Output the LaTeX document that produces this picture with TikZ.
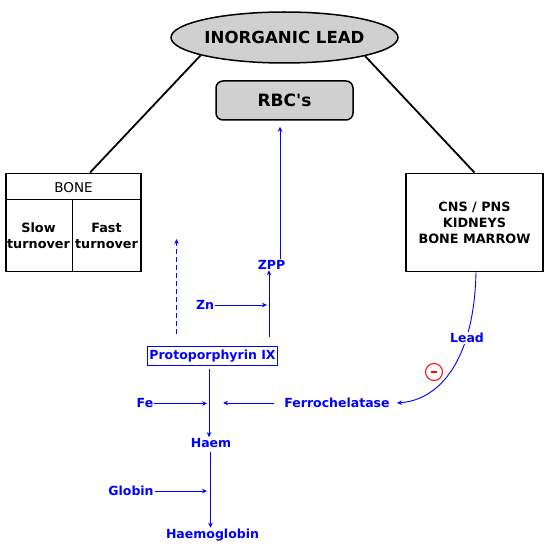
\documentclass[tikz,border=0pt]{standalone}
\usepackage{fontspec}
\setmainfont{DejaVu Sans}
\usetikzlibrary{arrows.meta,shapes.geometric,calc}
\definecolor{pb}{RGB}{0,0,255}
\definecolor{fillgray}{RGB}{208,208,208}
\begin{document}
\begin{tikzpicture}[x=1pt,y=-1pt,
  blk/.style={draw=black,line width=1.8pt},
  greybox/.style={draw=black,line width=1.5pt,fill=fillgray,inner sep=0pt},
  boxtext/.style={font=\bfseries\fontsize{12.8}{16}\selectfont,align=center,inner sep=0pt},
  lbl/.style={text=pb,font=\bfseries\fontsize{12.5}{14}\selectfont,inner sep=1pt},
  flow/.style={draw=pb,line width=1pt,-{Stealth[length=5pt,width=4.5pt]}},
  dashflow/.style={flow,dash pattern=on 5pt off 3pt}]
\useasboundingbox (0,0) rectangle (549,548);

% grey nodes
\node[greybox,ellipse,minimum width=227pt,minimum height=51pt,
      font=\bfseries\fontsize{16.6}{20}\selectfont] (lead) at (284.5,37.5) {INORGANIC LEAD};
\node[greybox,rectangle,rounded corners=7pt,minimum width=137pt,minimum height=39pt,
      font=\bfseries\fontsize{17}{20}\selectfont] (rbc) at (284.5,100.5) {RBC\textquotesingle s};

% bone box
\node[blk,rectangle,minimum width=135pt,minimum height=98pt,inner sep=0pt] (bone) at (73.5,222.5) {};
\draw[blk] ([yshift=-27pt]bone.north west) -- ([yshift=-27pt]bone.north east);
\draw[blk] ([xshift=-1pt,yshift=-27pt]bone.north) -- ([xshift=-1pt]bone.south);
\node[font=\fontsize{13.5}{16}\selectfont,inner sep=0pt] (bonet) at (73.5,188) {BONE};
\node[boxtext] (slow) at (38.5,236) {Slow\\turnover};
\node[boxtext] (fast) at (106.5,236) {Fast\\turnover};

% organs box
\node[blk,rectangle,minimum width=137pt,minimum height=98pt,boxtext] (cns) at (474.5,222.5)
  {CNS / PNS\\KIDNEYS\\BONE MARROW};

\draw[blk] (lead.192) -- ([xshift=16.5pt]bone.north);
\draw[blk] (lead.347) -- (cns.north);

% blue labels
\node[lbl] (zpp) at (271.5,264.5) {ZPP};
\node[lbl] (zn) at (205,305) {Zn};
\node[lbl,draw=pb,line width=1.5pt,minimum width=130pt,minimum height=19pt,inner sep=1pt] (proto) at (212.5,356) {Protoporphyrin IX};
\node[lbl] (fe) at (145,403.5) {Fe};
\node[lbl] (ferro) at (337,403) {Ferrochelatase};
\node[lbl] (haem) at (211,443) {Haem};
\node[lbl] (globin) at (131,491) {Globin};
\node[lbl] (hgb) at (212.5,535) {Haemoglobin};
\node[circle,draw=red,line width=1pt,minimum size=17pt,inner sep=0pt] (minus) at (434,372)
  {\textcolor{red}{\rule[-1pt]{6pt}{2.2pt}}};

% coordinates
\coordinate (zntip) at (267,305);
\coordinate (zppstart) at (269,337);
\coordinate (dashs) at (176.5,334);
\coordinate (dashe) at (176.5,239);
\coordinate (ppout) at (209,369);
\coordinate (fetip) at (207,403.5);
\coordinate (ferrostart) at (274,403);
\coordinate (ferrotip) at (223,403);
\coordinate (haemout) at (210.5,452);
\coordinate (glotip) at (207,491);

% blue connectors
\draw[flow] ([xshift=8.5pt]zpp.north) -- ([xshift=-4.5pt]rbc.south) [shorten >=6pt];
\draw[flow] (zn.east) -- (zntip);
\draw[flow] (zppstart) -- (zppstart |- zpp.south);
\draw[dashflow] (dashs) -- (dashe);
\draw[flow] (ppout) -- (ppout |- haem.north);
\draw[flow] (fe.east) -- (fetip);
\draw[flow] (ferrostart) -- (ferrotip);
\draw[flow] (haemout) -- (haemout |- hgb.north);
\draw[flow] (globin.east) -- (glotip);
\draw[flow,line width=0.9pt] ([xshift=1.5pt]cns.south) .. controls (474,360) and (440,400) .. ([xshift=6pt]ferro.east);
\node[lbl,fill=white] (leadl) at (467,338) {Lead};
\end{tikzpicture}
\end{document}
